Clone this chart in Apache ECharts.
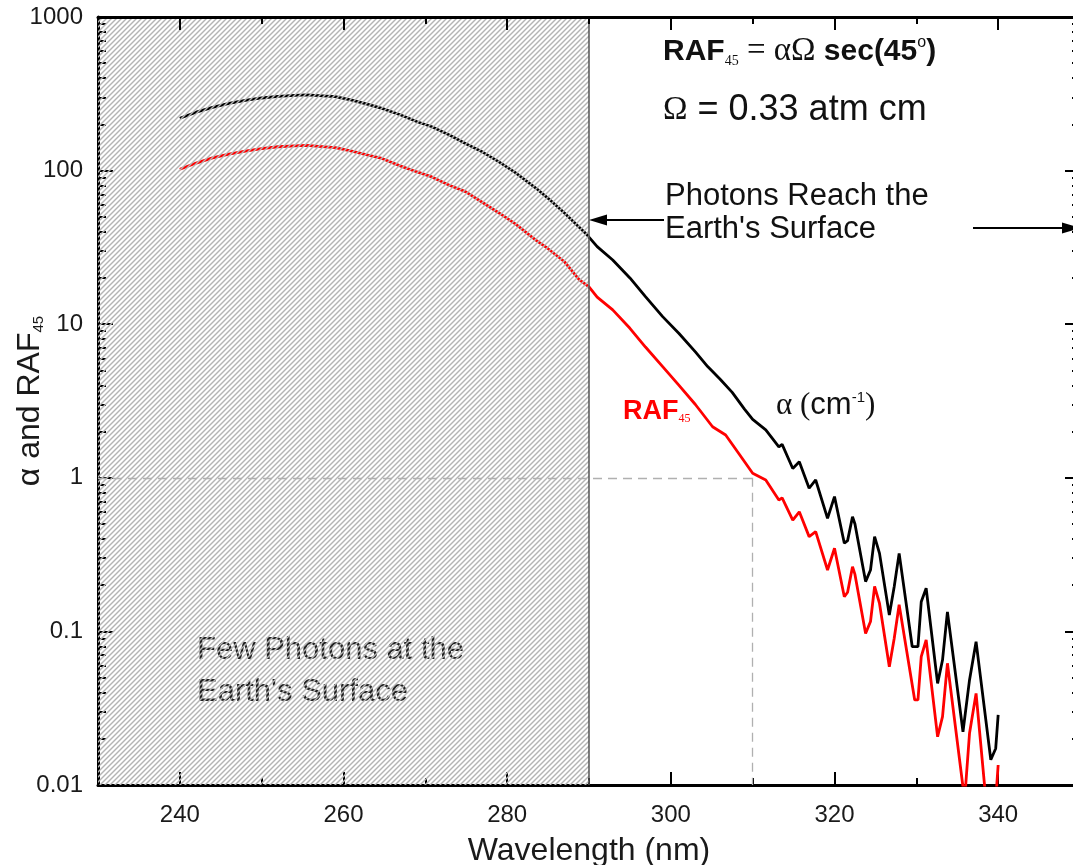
<!DOCTYPE html>
<html><head><meta charset="utf-8">
<script src="https://cdn.jsdelivr.net/npm/echarts@6/dist/echarts.min.js"></script>
<style>html,body{margin:0;padding:0;background:#fff;}#c{width:1073px;height:865px;}</style>
</head><body><div id="c"></div>
<script>
// ---- data ----
const alphaWavelength = [240,242,244,246,248,250,252,254,255.5,257,259,261,263,264.7,267,269,270.8,273,274.9,277,279,281,283.5,285,287,289.6,291,292.9,295,296.9,299,301,303,304.5,306,307.5,309,310,311.6,313.2,313.6,314.9,315.7,316.9,317.7,319.15,320.0,321.2,321.6,322.2,322.5,323.8,324.4,324.9,325.5,326.7,327.3,327.9,329.5,330.2,330.6,331.2,332.6,333.2,333.8,335.7,336.5,337.3,339.1,339.7,340.0];
const alphaValues = [219,240,258,274,287,297,304,309,311,308,303,288,270,254,230,208,193,170,150,132,114,97,77,66,53,39,32,26.2,20,15.1,11.2,8.7,6.6,5.3,4.4,3.6,2.8,2.4,2.05,1.59,1.65,1.15,1.27,0.855,0.968,0.545,0.754,0.375,0.39,0.558,0.50,0.211,0.251,0.414,0.322,0.128,0.196,0.322,0.0795,0.0795,0.156,0.191,0.0459,0.0651,0.134,0.0222,0.0483,0.0857,0.0146,0.0173,0.0286];
const rafWavelength = [240,242,244,246,248,250,252,254,255.5,257,259,261,263,264.7,267,269,270.8,273,274.9,277,279,281,283.5,285,287,288.8,290,291,292.9,295,296.9,299,301,303,305.1,306.7,308.3,310,311.6,313.2,313.6,314.9,315.7,316.9,317.7,319.15,320.0,321.2,321.6,322.2,322.5,323.8,324.4,324.9,325.5,326.7,327.3,327.9,329.8,330.2,330.6,331.2,332.6,333.2,333.8,335.9,336.5,337.3,338.5,339.7,340.0];
const rafValues = [102,112,121,128,134,139,143,145,146,144,141,134,126,120,107,98,91,80,73,62,53,45,35.3,31,25.5,19.5,17.5,15,12.4,9.4,7.1,5.3,4.0,3.0,2.15,1.9,1.44,1.07,0.968,0.717,0.74,0.531,0.601,0.414,0.446,0.251,0.348,0.168,0.18,0.264,0.235,0.097,0.116,0.196,0.152,0.0589,0.0902,0.149,0.0358,0.0358,0.0685,0.0879,0.0206,0.0279,0.062,0.008,0.0217,0.0395,0.008,0.008,0.0135];
const xTickLabels = [240,260,280,300,320,340];
const xMinorTicks = [250,270,290,310,330];
const yTickLabels = [0.01,0.1,1,10,100,1000];
const yMinorTicks = [0.02,0.03,0.04,0.05,0.06,0.07,0.08,0.09,0.2,0.3,0.4,0.5,0.6,0.7,0.8,0.9,2,3,4,5,6,7,8,9,20,30,40,50,60,70,80,90,200,300,400,500,600,700,800,900];
const shadeRange = [230, 290];
const markerLevel = 1;
const markerWavelength = 310;

function zip(xs, ys){ return xs.map((x,i)=>[x, ys[i]]); }

function makeHatch(){
  const c = document.createElement('canvas');
  c.width = 10; c.height = 10;
  const g = c.getContext('2d');
  g.strokeStyle = '#b4b4b4';
  g.lineWidth = 1.4;
  for (let k = -2; k <= 6; k++){
    const cc = k*5;
    g.beginPath(); g.moveTo(cc+2, -2); g.lineTo(cc-12, 12); g.stroke();
  }
  return c;
}

const SANS = '"Liberation Sans", Arial, Helvetica, sans-serif';
const SERIF = '"Liberation Serif", "Times New Roman", serif';

const chart = echarts.init(document.getElementById('c'), null, {renderer:'canvas'});

function xAx(pos, ticks, len, showLine, labels){
  return {
    type:'value', min:230, max:350, position:pos,
    axisLine:{show:showLine, onZero:false, lineStyle:{color:'#000', width:3}},
    axisTick:{show:true, inside:true, length:len, customValues:ticks, lineStyle:{color:'#000', width:2}},
    axisLabel: labels ? {show:true, customValues:ticks, fontSize:24, color:'#1a1a1a', fontFamily:SANS, margin:18} : {show:false},
    splitLine:{show:false},
    z: pos==='top' ? 20 : 0
  };
}
function yAx(pos, ticks, len, showLine, labels){
  return {
    type:'log', logBase:10, min:0.01, max:1000, position:pos,
    axisLine:{show:showLine, onZero:false, lineStyle:{color:'#000', width:3}},
    axisTick:{show:true, inside:true, length:len, customValues:ticks, lineStyle:{color:'#000', width:2}},
    axisLabel: labels ? {show:true, customValues:ticks, fontSize:24, color:'#1a1a1a', fontFamily:SANS, margin:15,
      formatter:(v)=>String(+v)} : {show:false},
    splitLine:{show:false}
  };
}

const xMain = xAx('bottom', xTickLabels, 13, true, true);
xMain.name = 'Wavelength (nm)';
xMain.nameLocation = 'middle';
xMain.nameGap = 50;
xMain.nameMoveOverlap = false;
xMain.nameTextStyle = {fontSize:32, color:'#1a1a1a', fontFamily:SANS};

const yMain = yAx('left', yTickLabels, 15, true, true);
yMain.name = '{a|α and RAF}{s|45}';
yMain.nameLocation = 'middle';
yMain.nameGap = 52;
yMain.nameMoveOverlap = false;
yMain.nameTextStyle = {
  fontSize:32, color:'#1a1a1a', fontFamily:SANS,
  rich:{
    a:{fontSize:32, color:'#1a1a1a', fontFamily:SANS},
    s:{fontSize:15, color:'#1a1a1a', fontFamily:SANS, verticalAlign:'bottom'}
  }
};

const option = {
  animation:false,
  backgroundColor:'#ffffff',
  grid:{left:98, top:17, width:982, height:768, containLabel:false, outerBoundsMode:'none'},
  xAxis:[
    xMain,
    xAx('bottom', xMinorTicks, 7, false, false),
    xAx('top', xTickLabels, 13, true, false),
    xAx('top', xMinorTicks, 7, false, false)
  ],
  yAxis:[
    yMain,
    yAx('left', yMinorTicks, 8, false, false),
    yAx('right', yTickLabels, 15, true, false),
    yAx('right', yMinorTicks, 8, false, false)
  ],
  series:[
    {
      name:'alpha', type:'line', xAxisIndex:0, yAxisIndex:0, z:3,
      data: zip(alphaWavelength, alphaValues),
      showSymbol:false, smooth:false, clip:true,
      lineStyle:{color:'#000000', width:2.8}
    },
    {
      name:'RAF45', type:'line', xAxisIndex:0, yAxisIndex:0, z:3,
      data: zip(rafWavelength, rafValues),
      showSymbol:false, smooth:false, clip:true,
      lineStyle:{color:'#ff0000', width:2.8}
    },
    {
      name:'shade', type:'line', xAxisIndex:0, yAxisIndex:0, z:10, data:[],
      markArea:{
        silent:true, z:10,
        itemStyle:{color:{image:makeHatch(), repeat:'repeat'}},
        data:[[{xAxis:shadeRange[0], yAxis:0.01},{xAxis:shadeRange[1], yAxis:1000}]]
      }
    },
    {
      name:'guides', type:'line', xAxisIndex:0, yAxisIndex:0, z:12, data:[],
      markLine:{
        silent:true, z:12, symbol:['none','none'], label:{show:false},
        data:[
          [{coord:[shadeRange[0], markerLevel], lineStyle:{color:'#b0b0b0', width:1.3, type:[9,6]}},
           {coord:[markerWavelength, markerLevel]}],
          [{coord:[markerWavelength, markerLevel], lineStyle:{color:'#b0b0b0', width:1.3, type:[9,6]}},
           {coord:[markerWavelength, 0.01]}],
          [{coord:[shadeRange[1], 0.01], lineStyle:{color:'#555555', width:1.5, type:'solid'}},
           {coord:[shadeRange[1], 1000]}]
        ]
      }
    }
  ],
  graphic:[
    {type:'text', left:197, top:629, z:1, silent:true,
     style:{text:"Few Photons at the\nEarth's Surface", font:'31px '+SANS, fill:'#222', lineHeight:42}},
    {type:'text', left:663, top:35, z:100, silent:true,
     style:{text:'{b|RAF}{s|45}{m| = αΩ }{b|sec(45}{p|o}{b|)}', font:'bold 30px '+SANS, fill:'#111',
       rich:{
         b:{font:'bold 30px '+SANS, fill:'#111', fontSize:30, fontWeight:'bold', fontFamily:SANS},
         s:{font:'14px '+SERIF, fill:'#111', fontSize:14, fontFamily:SERIF, verticalAlign:'bottom'},
         m:{font:'33px '+SERIF, fill:'#111', fontSize:33, fontFamily:SERIF},
         p:{font:'16px '+SANS, fill:'#111', fontSize:16, fontFamily:SANS, verticalAlign:'top'}
       }}},
    {type:'text', left:663, top:92, z:100, silent:true,
     style:{text:'{o|Ω}{t| = 0.33 atm cm}', font:'36px '+SANS, fill:'#111',
       rich:{
         o:{font:'33px '+SERIF, fill:'#111', fontSize:33, fontFamily:SERIF},
         t:{font:'36px '+SANS, fill:'#111', fontSize:36, fontFamily:SANS}
       }}},
    {type:'text', left:665, top:180, z:100, silent:true,
     style:{text:"Photons Reach the\nEarth's Surface", font:'31px '+SANS, fill:'#111', lineHeight:33}},
    {type:'text', left:623, top:398, z:100, silent:true,
     style:{text:'{r|RAF}{s|45}', font:'bold 27px '+SANS, fill:'#ff0000',
       rich:{
         r:{font:'bold 27px '+SANS, fill:'#ff0000', fontSize:27, fontWeight:'bold', fontFamily:SANS},
         s:{font:'12px '+SERIF, fill:'#ff0000', fontSize:12, fontFamily:SERIF, verticalAlign:'bottom'}
       }}},
    {type:'text', left:776, top:390, z:100, silent:true,
     style:{text:'{a|α (}{c|cm}{p|-1}{a|)}', font:'31px '+SANS, fill:'#111',
       rich:{
         a:{font:'31px '+SERIF, fill:'#111', fontSize:31, fontFamily:SERIF},
         c:{font:'31px '+SANS, fill:'#111', fontSize:31, fontFamily:SANS},
         p:{font:'15px '+SANS, fill:'#111', fontSize:15, fontFamily:SANS, verticalAlign:'top'}
       }}},
    // left arrow
    {type:'line', z:100, silent:true, shape:{x1:664, y1:220, x2:600, y2:220}, style:{stroke:'#000', lineWidth:2}},
    {type:'polygon', z:100, silent:true, shape:{points:[[589,220],[607,214.5],[607,225.5]]}, style:{fill:'#000'}},
    // right arrow
    {type:'line', z:100, silent:true, shape:{x1:973, y1:228, x2:1070, y2:228}, style:{stroke:'#000', lineWidth:2}},
    {type:'polygon', z:100, silent:true, shape:{points:[[1080,228],[1062,222.5],[1062,233.5]]}, style:{fill:'#000'}}
  ]
};
chart.setOption(option);
</script>
</body></html>
